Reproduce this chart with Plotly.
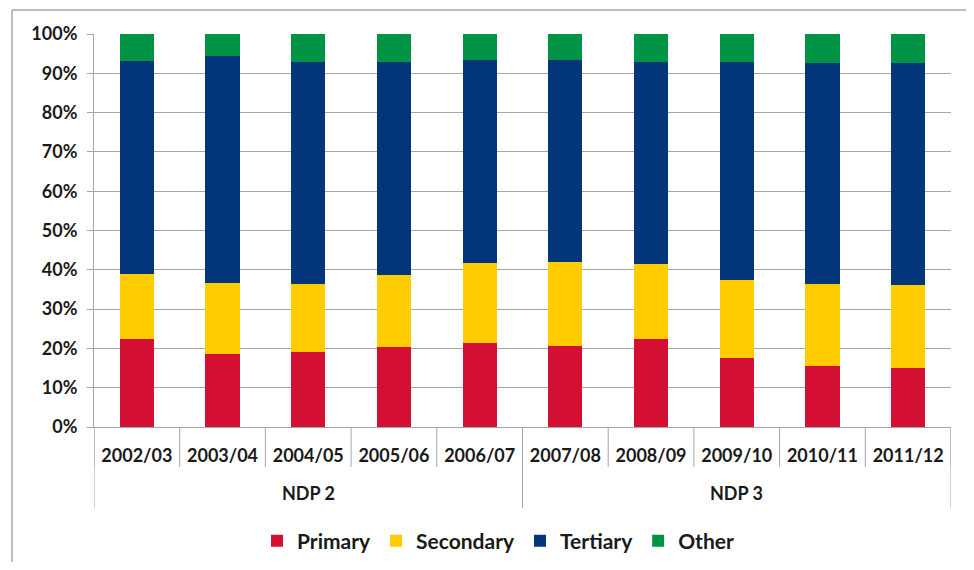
import plotly.graph_objects as go

years = ["2002/03", "2003/04", "2004/05", "2005/06", "2006/07",
         "2007/08", "2008/09", "2009/10", "2010/11", "2011/12"]
plan_names = ["NDP 2", "NDP 3"]
plan_sizes = [5, 5]

primary = [22.3, 18.5, 19.2, 20.4, 21.5, 20.7, 22.4, 17.6, 15.5, 14.9]
secondary = [16.6, 18.1, 17.2, 18.2, 20.3, 21.4, 19.1, 19.9, 21.0, 21.3]
tertiary = [54.3, 57.8, 56.6, 54.4, 51.7, 51.4, 51.5, 55.5, 56.2, 56.5]
other = [6.8, 5.6, 7.0, 7.0, 6.5, 6.5, 7.0, 7.0, 7.3, 7.3]

series = [("Primary", primary, "#D31034"),
          ("Secondary", secondary, "#FFCC00"),
          ("Tertiary", tertiary, "#02357A"),
          ("Other", other, "#009444")]

# page body has an 8px margin, so the figure is 16px smaller than the window
W, H = 958, 554
L, R, T, B = 86, 15, 26, 135
plot_w = W - L - R
plot_h = H - T - B

def py(px_below):
    # paper y for a pixel distance below the x axis
    return -px_below / plot_h

fig = go.Figure()
for name, vals, col in series:
    fig.add_trace(go.Bar(x=years, y=vals, name=name,
                         marker=dict(color=col, line=dict(width=0)),
                         width=0.4))

font_family = "Lato, 'DejaVu Sans', sans-serif"
grid = "#A6A6A6"

shapes = []
# year dividers
for i in range(len(years) + 1):
    shapes.append(dict(type="line", xref="x", yref="paper", x0=i - 0.5, x1=i - 0.5,
                       y0=0, y1=py(40), line=dict(color=grid, width=1)))
# group dividers and labels
annotations = []
start = 0
bounds = [0]
for name, n in zip(plan_names, plan_sizes):
    annotations.append(dict(text=name, xref="x", yref="paper", x=start + (n - 1) / 2,
                            y=py(66), showarrow=False, yanchor="middle",
                            font=dict(size=18, family=font_family, color="#1a1a1a",
                                      weight="bold")))
    start += n
    bounds.append(start)
for b in bounds:
    shapes.append(dict(type="line", xref="x", yref="paper", x0=b - 0.5, x1=b - 0.5,
                       y0=0, y1=py(81), line=dict(color=grid, width=1)))
# outer frame (left, top, right edges; bottom runs off the page)
fx0, fx1 = (4 - L) / plot_w, (965 - L) / plot_w
fy0, fy1 = py(H - T - plot_h + 20), 1 + (T - 2) / plot_h
for x0, y0, x1, y1, c in [(fx0, fy0, fx0, fy1, "#A8A8A8"),
                          (fx0, fy1, fx1, fy1, "#A8A8A8"),
                          (fx1, fy1, fx1, fy0, "#C8C8C8")]:
    shapes.append(dict(type="line", xref="paper", yref="paper", x0=x0, y0=y0, x1=x1, y1=y1,
                       line=dict(color=c, width=1.5), layer="below"))

fig.update_layout(
    barmode="stack",
    width=W, height=H,
    margin=dict(l=L, r=R, t=T, b=B, autoexpand=False),
    paper_bgcolor="white", plot_bgcolor="white",
    font=dict(family=font_family, size=18, color="#1a1a1a"),
    showlegend=True,
    legend=dict(orientation="h", x=(490 - L) / plot_w, xanchor="center",
                yref="container", y=1 - 533 / H, yanchor="middle",
                font=dict(size=21, color="#1a1a1a", weight="bold"), traceorder="normal",
                itemwidth=30),
    xaxis=dict(type="category", showline=True, linecolor=grid, linewidth=1,
               ticks="", ticklabelstandoff=12, automargin=False,
               tickfont=dict(size=18, family=font_family, weight="bold"),
               showgrid=False, range=[-0.5, len(years) - 0.5]),
    yaxis=dict(range=[0, 100], dtick=10, ticksuffix="%", showgrid=True,
               gridcolor=grid, gridwidth=1, showline=True, linecolor=grid,
               ticks="outside", ticklen=6, tickcolor=grid, automargin=False,
               ticklabelstandoff=6,
               tickfont=dict(size=18, family=font_family, weight="bold"),
               zeroline=False),
    shapes=shapes,
    annotations=annotations,
)

fig.write_html("out.html")
